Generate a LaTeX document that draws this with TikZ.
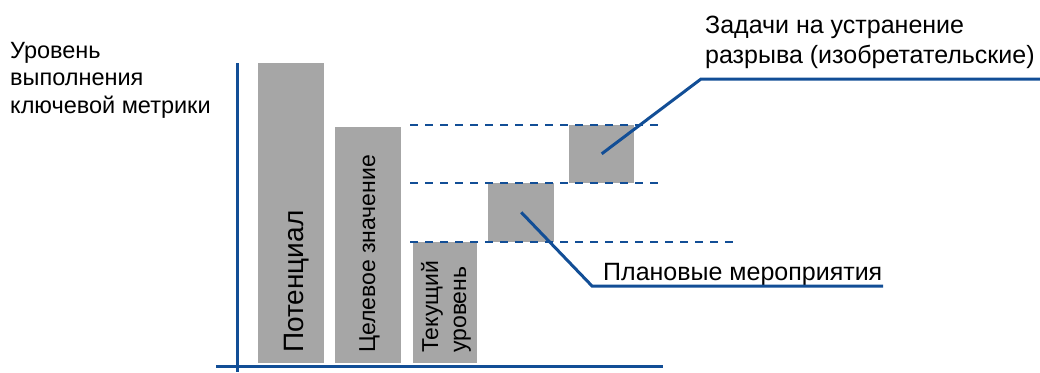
\documentclass[tikz,border=0pt]{standalone}
\usepackage{fontspec}
\setmainfont{Liberation Sans}
\usetikzlibrary{positioning}
\definecolor{lineblue}{RGB}{18,78,150}
\definecolor{bargray}{RGB}{166,166,166}

\begin{document}
\begin{tikzpicture}[
  x=1pt, y=-1pt,
  bar/.style={fill=bargray, draw=none, inner sep=0pt, anchor=south west},
  axis/.style={draw=lineblue, line width=3pt},
  level/.style={draw=lineblue, line width=2pt, dash pattern=on 8pt off 7pt},
  callout/.style={draw=lineblue, line width=3pt},
  lbl/.style={font=\fontsize{25}{30}\selectfont, inner sep=0pt, align=left, anchor=base west},
  vlbl/.style={lbl, rotate=90}
]
\useasboundingbox (0,0) rectangle (1040,372);

% axes
\coordinate (ytop) at (237,63);
\coordinate (ybot) at (237,372);
\coordinate (xleft) at (216,366);
\coordinate (xright) at (663,366);
\draw[axis] (ytop) -- (ybot);
\draw[axis] (xleft) -- (xright);

% bars
\node[bar, minimum width=66, minimum height=300] (pot) at (258,363) {};
\node[bar, minimum width=66, minimum height=236] (tgt) at (335,363) {};
\node[bar, minimum width=64, minimum height=121] (cur) at (413,363) {};
\node[bar, minimum width=66, minimum height=59] (plan) at (488,242) {};
\node[bar, minimum width=65, minimum height=58] (inv) at (569,183) {};

\node[vlbl, font=\fontsize{28}{34}\selectfont] (potlbl) at (303,353) {Потенциал};
\node[vlbl, font=\fontsize{23}{28}\selectfont] (tgtlbl) at (375,353) {Целевое значение};
\node[vlbl, font=\fontsize{23}{28}\selectfont] (curlbl) at (466,353) {Текущий\\уровень};

% levels
\draw[level] (410,125) -- (660,125);
\draw[level] (410,183) -- (660,183);
\draw[level] (410,242) -- (738,242);

% labels
\node[lbl, font=\fontsize{23.5}{27.5}\selectfont] (ylbl) at (10,113) {Уровень\\выполнения\\ключевой метрики};
\node[lbl] (gaplbl) at (705,63) {Задачи на устранение\\разрыва (изобретательские)};
\node[lbl] (planlbl) at (603,280) {Плановые мероприятия};

% callouts
\coordinate (gapknee) at (701,79);
\coordinate (gapend) at (1040,79);
\coordinate (planknee) at (592,286);
\coordinate (planend) at (883,286);
\draw[callout] (inv.center) -- (gapknee) -- (gapend);
\draw[callout] (plan.center) -- (planknee) -- (planend);
\end{tikzpicture}
\end{document}
